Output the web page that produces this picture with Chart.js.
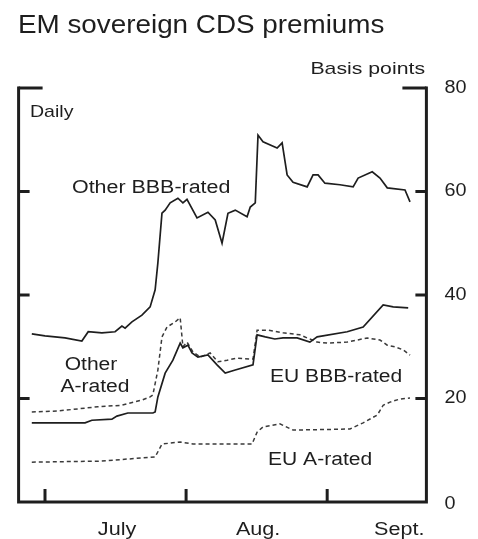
<!DOCTYPE html>
<html>
<head>
<meta charset="utf-8">
<script src="https://cdn.jsdelivr.net/npm/chart.js@4/dist/chart.umd.min.js"></script>
<style>
  html, body { margin: 0; padding: 0; background: #fff; }
  #wrap { width: 478px; height: 539px; }
</style>
</head>
<body>
<div id="wrap"><canvas id="cds" width="478" height="539"></canvas></div>
<script>
// days counted from 1 July, values in basis points
const otherBBBDays = [-2.9, 0, 4.4, 8.1, 9.5, 12.5, 15.4, 16.9, 17.6, 19.1, 21.3, 23.1, 24.2, 24.8, 25.7, 26.4, 27.5, 29.2, 30.3, 31.2, 33.4, 35.8, 37.4, 38.9, 40.2, 41.8, 44.4, 45.1, 46.2, 46.8, 47.9, 51.0, 52.1, 53.2, 54.5, 57.6, 58.9, 60.0, 61.5, 64.8, 67.7, 68.8, 71.9, 73.6, 75.2, 79.1, 80.2];
const otherBBBValues = [32.5, 32.1, 31.7, 31.1, 32.9, 32.7, 32.9, 34.0, 33.6, 34.8, 36.1, 37.7, 41.0, 46.2, 55.8, 56.4, 57.8, 58.7, 57.8, 58.5, 54.9, 56.0, 54.5, 50.0, 55.8, 56.4, 55.1, 57.0, 57.8, 70.9, 69.6, 68.4, 69.4, 63.2, 61.8, 60.9, 63.2, 63.2, 61.6, 61.3, 60.9, 62.6, 63.8, 62.6, 60.7, 60.3, 58.0];

const otherADays = [-2.9, 1.5, 8.8, 10.3, 14.7, 15.8, 18.2, 23.7, 24.2, 24.8, 26.4, 28.1, 29.7, 30.3, 31.4, 32.3, 33.6, 35.8, 37.8, 39.6, 41.8, 45.7, 46.6, 48.4, 50.5, 52.3, 55.4, 58.2, 59.8, 66.4, 69.9, 74.3, 76.5, 79.8];
const otherAValues = [15.3, 15.3, 15.3, 15.8, 16.0, 16.6, 17.2, 17.2, 17.4, 20.3, 24.9, 27.4, 30.7, 29.8, 30.3, 28.8, 28.0, 28.4, 26.5, 24.9, 25.5, 26.5, 32.3, 31.9, 31.5, 31.7, 31.7, 30.9, 31.9, 32.9, 33.8, 38.1, 37.7, 37.5];

const euBBBDays = [-2.9, 2.9, 7.3, 11.6, 16.9, 21.3, 23.1, 23.7, 24.8, 25.7, 26.8, 28.6, 29.7, 30.1, 30.3, 31.2, 32.5, 34.1, 36.3, 38.0, 40.0, 42.2, 45.7, 46.6, 49.0, 52.3, 56.0, 59.8, 62.0, 66.4, 70.8, 73.6, 75.2, 76.9, 78.7, 80.2];
const euBBBValues = [17.4, 17.6, 18.0, 18.4, 18.7, 19.7, 20.3, 20.7, 25.5, 31.9, 33.8, 34.8, 35.6, 31.9, 30.0, 30.9, 29.0, 28.0, 28.8, 27.1, 27.4, 27.8, 27.6, 33.2, 33.2, 32.7, 32.3, 30.9, 30.7, 30.9, 31.7, 31.3, 30.3, 30.0, 29.4, 28.4];

const euADays = [-2.9, 12.1, 24.2, 25.7, 29.7, 32.5, 45.5, 46.6, 47.9, 51.6, 54.5, 67.0, 69.9, 73.0, 74.3, 75.8, 78.0, 80.2];
const euAValues = [7.7, 7.9, 8.7, 11.2, 11.6, 11.2, 11.2, 13.5, 14.5, 15.1, 13.9, 14.1, 15.3, 16.8, 18.7, 19.3, 19.9, 20.1];

const yTicks = [0, 20, 40, 60, 80];
const monthStarts = [0, 31, 62, 93];
const monthLabels = ['July', 'Aug.', 'Sept.'];

const FONT = '"Liberation Sans", Arial, sans-serif';
const INK = '#1e1e1e';

function toPoints(days, values) {
  return days.map((d, i) => ({ x: d, y: values[i] }));
}

function drawText(ctx, text, x, y, size, align, base, stretch) {
  ctx.save();
  ctx.translate(x, y);
  ctx.scale(stretch, 1);
  ctx.font = size + 'px ' + FONT;
  ctx.fillStyle = INK;
  ctx.textAlign = align;
  ctx.textBaseline = base;
  ctx.fillText(text, 0, 0);
  ctx.restore();
}

const decorations = {
  id: 'decorations',
  afterDatasetsDraw(chart) {
    const ctx = chart.ctx;
    const area = chart.chartArea;
    const xs = chart.scales.x, ys = chart.scales.y;

    ctx.save();
    ctx.strokeStyle = INK;
    ctx.lineWidth = 3;
    ctx.lineCap = 'butt';
    // frame: left, bottom, right
    ctx.beginPath();
    ctx.moveTo(area.left, area.top - 1.5);
    ctx.lineTo(area.left, area.bottom);
    ctx.lineTo(area.right, area.bottom);
    ctx.lineTo(area.right, area.top - 1.5);
    ctx.stroke();

    // y ticks, inside on both sides
    yTicks.forEach(v => {
      if (v === 0) return;
      const y = ys.getPixelForValue(v);
      const len = v === ys.max ? 24 : 11;
      ctx.beginPath();
      ctx.moveTo(area.left, y);
      ctx.lineTo(area.left + len, y);
      ctx.moveTo(area.right - len, y);
      ctx.lineTo(area.right, y);
      ctx.stroke();
    });

    // month ticks
    monthStarts.slice(0, monthLabels.length).forEach(d => {
      const x = xs.getPixelForValue(d);
      ctx.beginPath();
      ctx.moveTo(x, area.bottom);
      ctx.lineTo(x, area.bottom - 13);
      ctx.stroke();
    });
    ctx.restore();

    // y labels on the right
    yTicks.forEach(v => {
      const y = ys.getPixelForValue(v) + (v === 0 ? 2 : 0);
      drawText(ctx, String(v), area.right + 18, y, 18, 'left', 'middle', 1.1);
    });

    // month labels centred in each month
    monthLabels.forEach((m, i) => {
      const x = xs.getPixelForValue((monthStarts[i] + monthStarts[i + 1]) / 2) + 1.5;
      drawText(ctx, m, x, 535, 18, 'center', 'alphabetic', 1.2);
    });

    drawText(ctx, 'EM sovereign CDS premiums', 18, 33, 26, 'left', 'alphabetic', 1.07);
    drawText(ctx, 'Basis points', 425, 74, 17, 'right', 'alphabetic', 1.25);
    drawText(ctx, 'Daily', 30, 117, 17, 'left', 'alphabetic', 1.15);
    drawText(ctx, 'Other BBB-rated', 72, 193, 18, 'left', 'alphabetic', 1.19);
    drawText(ctx, 'Other', 91, 370, 18, 'center', 'alphabetic', 1.17);
    drawText(ctx, 'A-rated', 95, 392, 18, 'center', 'alphabetic', 1.17);
    drawText(ctx, 'EU BBB-rated', 270, 382, 18, 'left', 'alphabetic', 1.17);
    drawText(ctx, 'EU A-rated', 268, 465, 18, 'left', 'alphabetic', 1.17);
  }
};

const solid = { borderColor: INK, borderWidth: 1.7, pointRadius: 0, tension: 0, fill: false };
const dashed = { borderColor: '#3a3a3a', borderWidth: 1.5, borderDash: [4, 3], pointRadius: 0, tension: 0, fill: false };

new Chart(document.getElementById('cds').getContext('2d'), {
  type: 'line',
  plugins: [decorations],
  data: {
    datasets: [
      Object.assign({ label: 'Other BBB-rated', data: toPoints(otherBBBDays, otherBBBValues) }, solid),
      Object.assign({ label: 'Other A-rated', data: toPoints(otherADays, otherAValues) }, solid),
      Object.assign({ label: 'EU BBB-rated', data: toPoints(euBBBDays, euBBBValues) }, dashed),
      Object.assign({ label: 'EU A-rated', data: toPoints(euADays, euAValues) }, dashed)
    ]
  },
  options: {
    responsive: false,
    animation: false,
    layout: { padding: { left: 18.6, right: 51.6, top: 88, bottom: 37 } },
    scales: {
      x: { type: 'linear', min: -5.8, max: 83.8, display: false },
      y: { min: 0, max: 80, display: false }
    },
    plugins: {
      legend: { display: false },
      tooltip: { enabled: false }
    }
  }
});
</script>
</body>
</html>
